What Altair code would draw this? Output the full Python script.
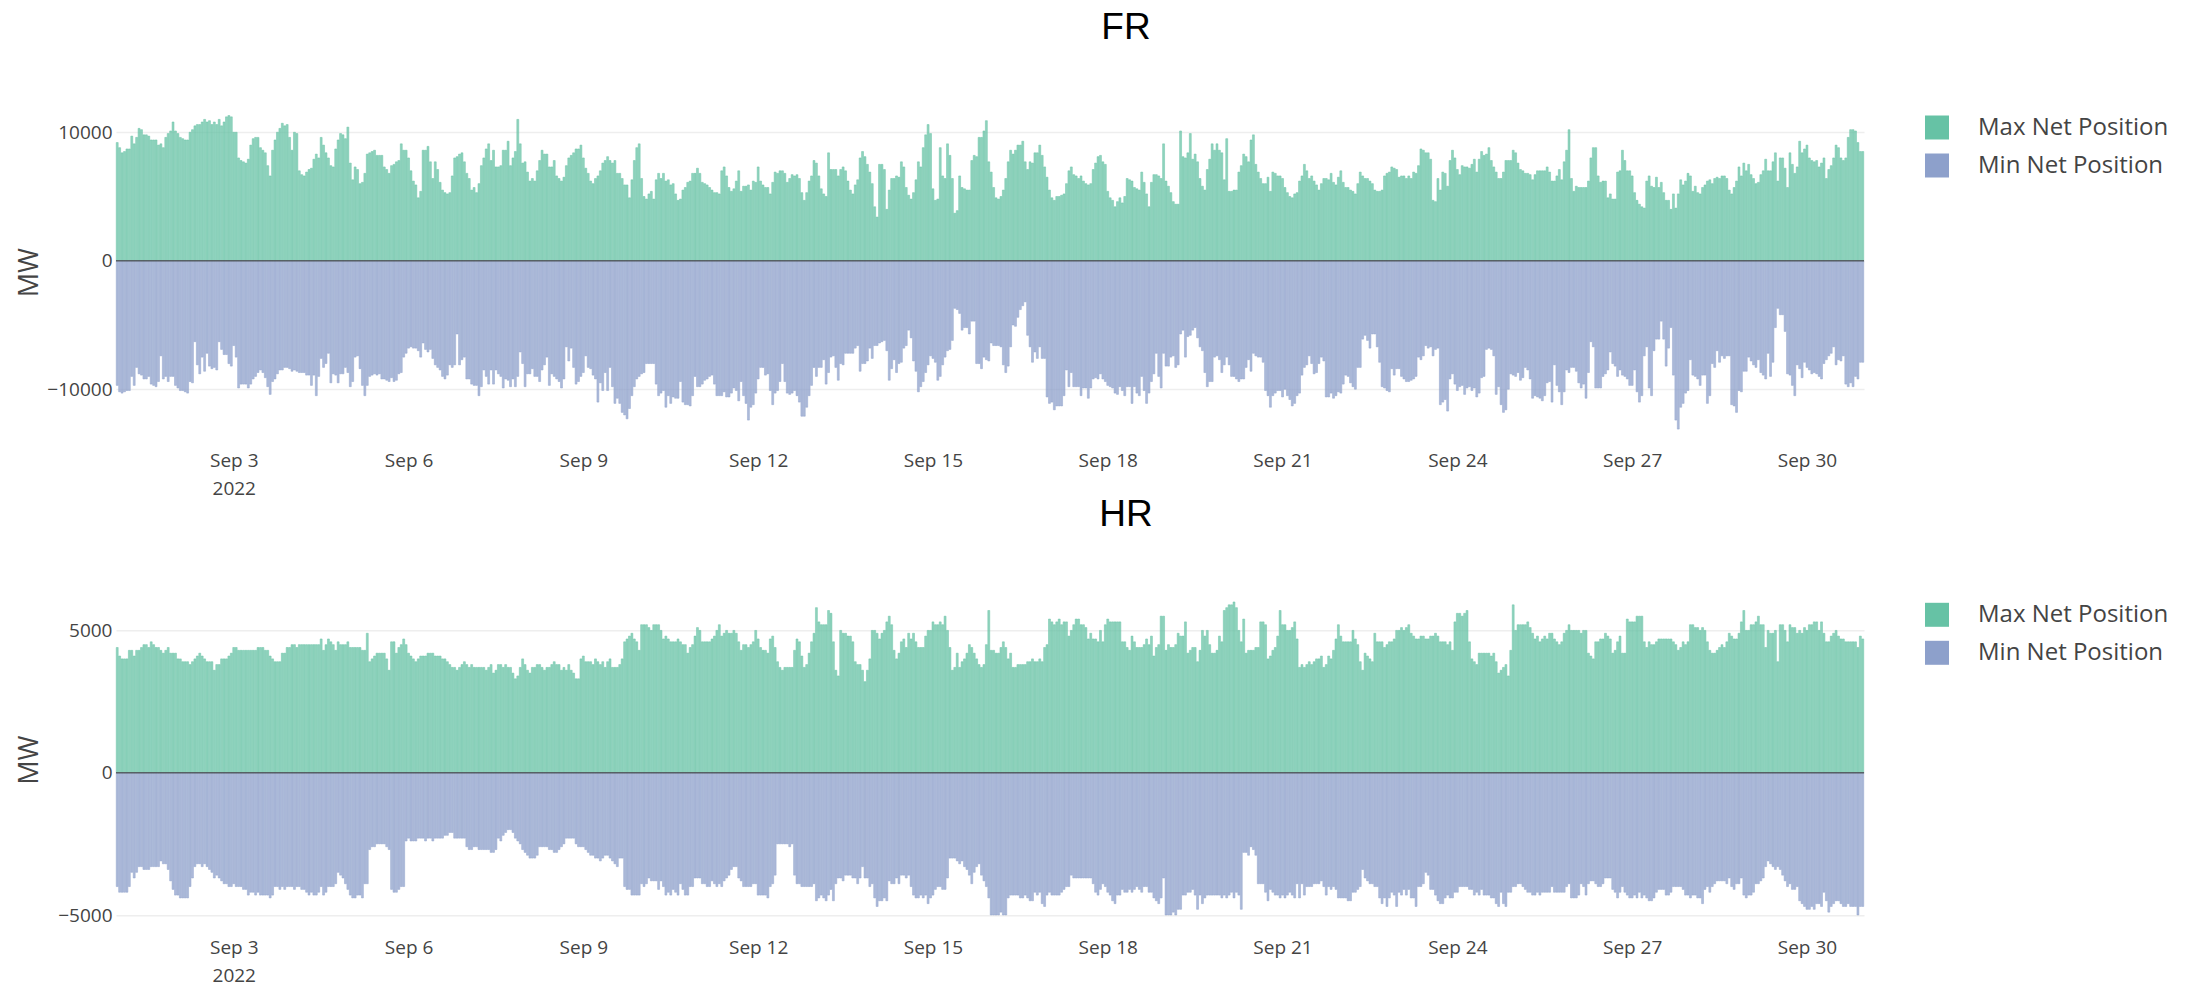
import altair as alt
import pandas as pd

# Hourly values for September 2022, in units of 100 MW (one line per day)
FR_MAX_100MW = [
    92,88,84,85,87,87,97,91,96,103,102,98,98,97,94,94,94,90,91,88,96,99,101,108,
    101,99,96,95,94,94,100,102,105,106,106,108,110,108,109,106,108,106,110,105,108,112,113,112,
    100,100,80,78,77,76,79,90,95,96,96,88,86,84,74,66,86,94,100,103,107,105,106,96,
    86,100,99,70,67,66,69,71,72,79,83,80,96,90,84,80,74,73,87,94,99,98,95,104,
    76,63,73,71,60,61,68,83,84,85,86,82,82,82,73,71,68,74,75,77,78,91,86,86,
    80,70,62,59,49,54,86,86,89,77,64,77,71,61,55,53,52,53,66,80,81,83,84,77,
    68,64,55,57,53,60,74,80,87,91,78,86,73,73,74,86,86,93,74,80,85,110,91,76,
    77,69,62,64,62,70,78,86,83,83,73,73,78,66,64,62,65,74,80,82,84,87,87,90,
    80,72,68,62,60,64,66,70,76,78,81,78,76,78,68,68,64,59,59,49,63,78,88,91,
    64,50,48,52,54,48,63,68,64,68,62,63,59,60,52,47,48,55,57,61,62,68,68,72,
    68,61,60,59,57,55,53,53,52,70,73,66,57,54,56,62,70,54,58,58,59,55,62,61,
    73,62,59,57,57,52,61,69,68,70,70,68,61,64,67,66,67,64,53,47,53,62,66,78,
    76,66,56,52,50,84,71,71,71,66,71,73,70,62,55,52,59,63,80,85,81,75,69,60,
    42,34,75,75,71,40,55,64,64,66,65,77,73,57,51,48,53,63,77,73,88,98,106,99,
    56,47,48,88,66,64,91,82,64,37,39,66,57,56,55,55,78,82,81,96,96,101,109,77,
    69,57,49,48,50,55,64,77,86,83,86,90,90,93,77,71,77,76,84,84,90,82,73,65,
    55,49,47,50,50,51,52,60,70,73,67,66,64,66,62,60,59,60,71,76,81,82,77,75,
    54,49,47,42,46,49,45,50,64,63,62,57,56,55,69,61,52,42,61,67,67,66,64,91,
    62,58,53,46,44,44,101,81,80,84,99,79,83,77,64,58,55,71,79,91,86,91,86,84,
    63,95,54,54,55,55,69,74,83,81,77,94,98,75,69,64,60,60,65,54,69,68,66,66,
    64,57,53,50,49,52,53,62,66,75,70,64,66,62,59,55,60,64,64,63,68,61,59,65,
    70,61,57,57,55,54,52,60,69,66,64,64,62,60,55,54,54,55,66,68,69,73,72,71,
    65,66,66,64,66,64,69,68,74,87,86,84,84,79,47,46,64,55,69,68,58,78,86,80,
    71,67,74,73,73,72,75,79,69,79,85,82,83,88,78,73,69,64,64,69,78,78,78,86,
    84,76,71,70,68,68,67,63,67,70,70,70,70,73,69,62,62,66,71,63,77,86,102,64,
    54,58,57,57,57,57,62,80,88,88,66,61,62,62,49,52,48,48,69,70,86,78,70,70,
    66,53,47,44,42,41,62,66,58,57,65,57,61,53,47,47,40,52,41,52,63,59,62,68,
    66,54,58,53,52,57,59,62,63,60,64,65,64,66,66,64,55,52,57,62,73,66,76,70,
    75,67,64,60,61,67,70,79,70,70,77,84,62,80,80,72,57,84,75,68,73,93,84,87,
    90,80,78,77,78,73,76,80,64,71,74,80,90,88,80,78,80,96,102,102,101,92,85,85,
]
FR_MIN_100MW = [
    -97,-102,-103,-102,-101,-101,-90,-97,-83,-88,-89,-92,-92,-90,-96,-97,-98,-94,-74,-92,-90,-94,-90,-90,
    -97,-99,-101,-101,-102,-103,-94,-95,-63,-81,-88,-75,-86,-72,-82,-84,-83,-85,-63,-69,-73,-73,-80,-82,
    -66,-75,-99,-96,-96,-96,-99,-96,-92,-90,-87,-85,-87,-91,-98,-104,-94,-92,-88,-85,-85,-83,-83,-84,
    -86,-85,-86,-87,-87,-87,-89,-89,-97,-89,-105,-90,-76,-83,-80,-72,-95,-88,-89,-95,-88,-88,-83,-87,
    -98,-94,-75,-74,-84,-97,-105,-97,-90,-89,-88,-89,-88,-92,-92,-93,-94,-91,-94,-93,-88,-87,-75,-72,
    -68,-67,-68,-68,-70,-75,-64,-69,-71,-69,-76,-81,-83,-85,-90,-92,-89,-81,-83,-81,-57,-81,-77,-75,
    -92,-92,-96,-97,-97,-105,-98,-85,-90,-96,-85,-96,-85,-88,-90,-99,-92,-93,-98,-92,-98,-90,-71,-80,
    -98,-88,-88,-84,-90,-90,-94,-85,-81,-75,-97,-88,-90,-92,-94,-99,-92,-67,-78,-68,-83,-96,-94,-90,
    -87,-74,-83,-84,-89,-92,-110,-95,-101,-87,-101,-83,-98,-111,-107,-111,-118,-120,-123,-115,-105,-98,-92,-90,
    -88,-87,-80,-80,-80,-80,-96,-105,-103,-101,-114,-105,-111,-106,-107,-107,-94,-110,-112,-112,-113,-105,-90,-98,
    -98,-96,-93,-92,-90,-89,-96,-105,-105,-105,-102,-106,-106,-103,-99,-101,-109,-94,-105,-111,-124,-114,-112,-103,
    -92,-83,-83,-89,-88,-101,-112,-103,-101,-94,-80,-94,-103,-104,-103,-101,-105,-110,-121,-121,-114,-105,-97,-83,
    -90,-83,-83,-77,-96,-87,-75,-74,-83,-93,-80,-81,-72,-72,-72,-72,-68,-66,-86,-80,-80,-78,-68,-76,
    -66,-66,-64,-63,-62,-70,-93,-84,-77,-87,-80,-79,-68,-66,-54,-60,-78,-86,-102,-98,-94,-87,-81,-74,
    -76,-79,-93,-90,-81,-75,-70,-69,-62,-37,-38,-41,-54,-52,-52,-57,-47,-47,-80,-80,-84,-75,-77,-78,
    -64,-66,-66,-66,-67,-81,-87,-82,-67,-50,-51,-44,-38,-35,-32,-58,-67,-79,-71,-76,-67,-76,-76,-106,
    -111,-110,-116,-113,-113,-113,-105,-85,-98,-87,-98,-98,-98,-105,-99,-99,-107,-99,-92,-91,-92,-88,-92,-94,
    -97,-98,-99,-103,-104,-98,-101,-105,-98,-98,-111,-98,-103,-105,-90,-101,-111,-103,-94,-88,-72,-90,-99,-72,
    -82,-82,-75,-74,-83,-81,-57,-54,-75,-59,-58,-54,-52,-60,-67,-70,-87,-98,-94,-94,-75,-74,-77,-87,
    -81,-75,-81,-90,-90,-92,-94,-92,-92,-83,-77,-86,-72,-74,-75,-75,-79,-101,-105,-114,-105,-103,-101,-101,
    -106,-100,-105,-108,-113,-111,-105,-103,-89,-83,-81,-74,-80,-88,-87,-80,-75,-78,-106,-106,-103,-107,-105,-102,
    -103,-96,-89,-90,-95,-98,-100,-83,-83,-61,-58,-62,-68,-57,-57,-67,-79,-98,-99,-101,-102,-84,-89,-84,
    -84,-90,-92,-94,-94,-93,-92,-90,-75,-77,-74,-66,-68,-67,-74,-69,-68,-112,-110,-108,-117,-92,-88,-96,
    -101,-98,-97,-104,-99,-98,-101,-99,-106,-103,-91,-90,-69,-68,-69,-74,-104,-98,-112,-118,-116,-100,-88,-89,
    -90,-87,-93,-91,-83,-85,-92,-107,-105,-106,-107,-109,-105,-95,-94,-110,-81,-97,-102,-112,-102,-85,-87,-83,
    -83,-86,-95,-99,-96,-107,-87,-63,-67,-99,-99,-99,-90,-88,-85,-71,-80,-82,-90,-85,-89,-90,-92,-97,
    -97,-85,-102,-110,-105,-74,-67,-99,-105,-70,-61,-61,-47,-61,-82,-68,-52,-89,-124,-131,-114,-111,-103,-101,
    -77,-89,-90,-92,-97,-89,-89,-111,-105,-80,-83,-70,-79,-74,-76,-74,-74,-112,-113,-118,-101,-102,-86,-86,
    -75,-78,-81,-83,-77,-87,-89,-92,-72,-90,-79,-52,-37,-42,-42,-55,-88,-89,-97,-105,-81,-84,-91,-79,
    -83,-85,-88,-87,-88,-90,-92,-80,-77,-74,-72,-67,-81,-77,-78,-74,-96,-98,-95,-98,-90,-92,-79,-79,
]
HR_MAX_100MW = [
    44,41,40,40,40,43,43,41,43,43,44,45,45,44,46,45,44,44,43,42,43,44,42,42,
    42,40,40,39,39,39,38,39,40,41,42,41,40,39,39,39,36,38,38,40,40,40,41,42,
    44,44,43,43,43,43,43,43,43,43,44,44,44,43,43,41,40,39,39,39,42,42,44,44,
    45,45,44,45,45,45,45,45,45,45,45,45,47,43,45,47,46,45,43,46,45,45,45,46,
    44,44,44,44,44,43,43,49,39,40,41,42,42,42,42,40,36,46,46,42,44,45,47,45,
    42,41,40,39,40,41,41,41,42,42,42,41,41,41,40,40,39,38,37,37,36,37,38,39,
    38,37,38,37,37,37,37,37,36,37,38,35,36,38,38,37,38,37,37,35,33,34,37,40,
    38,36,35,37,37,38,38,37,36,37,37,38,39,38,38,36,37,36,38,36,35,33,33,40,
    41,39,39,39,38,40,39,38,39,37,39,40,37,37,37,38,40,46,47,48,49,47,46,43,
    52,52,52,51,50,52,52,52,50,47,48,47,46,46,46,47,46,45,45,42,44,45,48,51,
    50,46,46,46,46,47,48,50,52,48,49,50,49,49,50,49,46,43,45,45,44,45,46,50,
    47,44,43,43,42,47,48,44,39,37,36,37,37,37,37,43,47,46,41,37,38,42,46,49,
    58,53,52,52,52,57,56,46,36,34,50,49,49,48,48,46,39,38,38,36,32,36,40,50,
    50,49,47,49,50,53,55,52,43,40,42,46,47,44,49,47,49,46,44,44,44,48,50,50,
    53,52,52,53,52,55,50,44,36,37,42,37,39,40,42,45,44,42,40,38,37,38,45,57,
    43,43,42,42,44,46,44,40,42,37,37,38,38,38,38,39,39,40,39,39,40,39,44,45,
    54,53,52,53,54,52,53,53,48,50,52,54,54,52,52,51,47,49,47,47,46,50,46,52,
    54,53,53,53,53,53,46,46,44,43,48,46,44,44,44,45,47,45,48,41,44,45,55,55,
    43,45,44,44,45,49,48,48,53,42,43,44,44,39,43,50,48,50,45,42,42,43,48,46,
    57,58,59,59,60,58,50,46,54,42,43,43,43,44,44,53,53,52,40,41,43,44,48,57,
    52,52,50,50,51,53,47,37,38,37,38,39,38,39,40,40,41,37,38,41,40,43,47,52,
    48,46,46,46,46,50,47,45,39,36,42,41,40,39,49,46,46,46,44,45,46,46,47,50,
    50,51,50,51,52,49,48,47,47,48,48,47,47,48,48,49,48,46,46,46,45,46,43,53,
    56,56,55,56,57,46,40,39,38,42,42,42,42,42,41,42,39,35,36,37,38,34,43,59,
    50,52,52,52,52,53,51,49,47,48,46,47,48,47,49,49,47,46,45,46,49,50,52,50,
    50,50,50,49,50,50,42,41,40,46,46,47,47,49,48,47,42,43,46,48,42,42,54,53,
    53,53,55,55,55,46,44,46,45,45,46,47,47,47,47,47,47,46,45,43,44,46,45,46,
    52,52,51,51,50,51,50,46,43,42,42,43,44,45,44,46,49,48,47,47,49,53,57,50,
    50,52,52,53,55,52,52,44,50,49,49,50,39,52,52,50,46,52,51,51,49,50,49,51,
    50,52,52,53,53,50,53,49,46,46,48,49,50,48,47,47,46,46,46,46,46,44,48,47,
]
HR_MIN_100MW = [
    -40,-42,-42,-42,-42,-40,-35,-37,-35,-33,-33,-34,-34,-34,-33,-33,-33,-33,-31,-32,-32,-34,-38,-41,
    -43,-43,-44,-44,-44,-44,-40,-37,-33,-32,-32,-33,-32,-33,-34,-35,-37,-36,-37,-38,-39,-39,-40,-40,
    -39,-40,-40,-40,-41,-41,-43,-42,-42,-43,-42,-43,-43,-43,-43,-44,-43,-40,-40,-41,-40,-41,-40,-40,
    -40,-41,-40,-40,-41,-41,-42,-43,-42,-43,-43,-42,-40,-43,-42,-40,-40,-40,-39,-35,-36,-37,-39,-41,
    -43,-44,-44,-43,-43,-44,-39,-39,-27,-26,-26,-25,-25,-25,-25,-26,-27,-41,-42,-42,-41,-40,-40,-24,
    -23,-24,-24,-24,-23,-23,-23,-24,-23,-23,-24,-23,-23,-23,-23,-22,-22,-21,-21,-23,-23,-23,-23,-23,
    -26,-27,-27,-26,-26,-27,-27,-27,-27,-27,-28,-28,-27,-23,-24,-22,-21,-20,-20,-21,-23,-24,-25,-27,
    -28,-29,-30,-30,-30,-29,-26,-26,-26,-26,-27,-27,-28,-28,-27,-26,-25,-23,-23,-23,-23,-25,-26,-26,
    -26,-27,-28,-29,-29,-30,-30,-31,-30,-29,-29,-30,-31,-32,-33,-30,-30,-40,-41,-41,-43,-43,-43,-43,
    -39,-40,-39,-37,-38,-38,-38,-41,-38,-40,-43,-42,-43,-41,-42,-43,-39,-41,-43,-43,-40,-40,-37,-37,
    -37,-39,-39,-40,-40,-38,-39,-40,-39,-40,-38,-37,-36,-34,-33,-33,-37,-38,-40,-40,-40,-40,-39,-39,
    -43,-43,-43,-43,-44,-40,-39,-36,-25,-25,-25,-25,-25,-26,-25,-36,-39,-39,-40,-40,-40,-40,-40,-39,
    -45,-44,-43,-44,-45,-43,-41,-45,-39,-37,-37,-38,-36,-36,-36,-37,-37,-39,-37,-33,-37,-37,-40,-39,
    -44,-47,-45,-45,-44,-45,-38,-39,-39,-37,-39,-36,-36,-37,-36,-40,-43,-44,-44,-43,-44,-43,-46,-44,
    -43,-41,-40,-40,-41,-41,-37,-30,-30,-30,-31,-32,-31,-33,-34,-36,-39,-35,-33,-32,-36,-38,-40,-44,
    -50,-50,-50,-50,-49,-50,-50,-44,-43,-43,-43,-43,-44,-44,-43,-44,-45,-45,-42,-43,-42,-46,-47,-43,
    -42,-43,-43,-43,-43,-42,-41,-40,-40,-36,-37,-37,-37,-37,-37,-37,-37,-37,-39,-42,-43,-41,-39,-40,
    -42,-43,-45,-46,-43,-43,-41,-42,-42,-41,-42,-41,-40,-41,-42,-40,-40,-42,-42,-44,-45,-46,-44,-37,
    -50,-50,-50,-49,-50,-48,-48,-43,-43,-42,-42,-41,-43,-48,-43,-46,-44,-43,-43,-43,-43,-43,-43,-44,
    -43,-44,-43,-42,-44,-42,-43,-48,-28,-28,-29,-26,-27,-29,-39,-39,-39,-42,-45,-41,-42,-43,-43,-44,
    -43,-44,-43,-42,-43,-44,-39,-44,-39,-43,-40,-40,-40,-39,-39,-39,-38,-40,-43,-40,-41,-40,-41,-44,
    -44,-44,-44,-45,-45,-42,-42,-41,-40,-34,-37,-38,-39,-39,-40,-40,-44,-46,-44,-47,-44,-42,-43,-47,
    -42,-43,-41,-43,-41,-44,-44,-47,-40,-40,-39,-35,-36,-41,-41,-43,-45,-46,-46,-44,-43,-44,-44,-42,
    -42,-40,-40,-40,-40,-41,-41,-43,-42,-43,-41,-43,-43,-43,-44,-44,-46,-47,-42,-46,-47,-42,-42,-40,
    -40,-39,-39,-40,-41,-42,-42,-43,-43,-42,-43,-42,-42,-42,-42,-40,-42,-42,-42,-42,-42,-40,-39,-44,
    -44,-44,-43,-39,-40,-43,-39,-38,-38,-39,-40,-40,-39,-37,-37,-37,-41,-42,-44,-42,-40,-42,-43,-44,
    -44,-43,-44,-42,-44,-43,-44,-45,-45,-44,-42,-41,-41,-41,-43,-43,-42,-40,-40,-40,-40,-41,-43,-43,
    -44,-43,-43,-44,-44,-46,-41,-40,-42,-40,-39,-38,-38,-38,-38,-39,-37,-40,-41,-39,-39,-37,-43,-44,
    -43,-43,-42,-39,-39,-38,-37,-33,-31,-32,-33,-34,-33,-34,-36,-38,-40,-39,-41,-41,-40,-45,-46,-47,
    -48,-48,-47,-48,-46,-46,-47,-42,-45,-49,-47,-46,-45,-45,-46,-47,-47,-46,-47,-47,-47,-50,-47,-47,
]

SERIES = ["Max Net Position", "Min Net Position"]
COLORS = ["#66c2a5", "#8da0cb"]
TICK_DAYS = [3, 6, 9, 12, 15, 18, 21, 24, 27, 30]
FR_TICKS = [-10000, 0, 10000]
HR_TICKS = [-5000, 0, 5000]

for name, arr in [("FR_MAX", FR_MAX_100MW), ("FR_MIN", FR_MIN_100MW),
                  ("HR_MAX", HR_MAX_100MW), ("HR_MIN", HR_MIN_100MW)]:
    assert len(arr) == 720, (name, len(arr))

times = pd.date_range("2022-09-01", periods=720, freq="h", tz="UTC")
t_ms = times.asi8 // 10**6
HALF = 24 * 60 * 1000  # bar half-width (80% of an hour)


def make_df(max_vals, min_vals):
    frames = []
    for label, vals in zip(SERIES, [max_vals, min_vals]):
        frames.append(pd.DataFrame({
            "t0": t_ms - HALF,
            "t1": t_ms + HALF,
            "v": [v * 100 for v in vals],
            "s": label,
        }))
    return pd.concat(frames, ignore_index=True)


XDOM = [alt.DateTime(year=2022, month=8, date=31, hours=23, minutes=30, utc=True),
        alt.DateTime(year=2022, month=9, date=30, hours=23, minutes=30, utc=True)]
PLOT_W = 1748
PLOT_H = 344.5
FONT = "Open Sans"


def panel(df, title, ydom, yticks):
    yscale = alt.Scale(domain=ydom, nice=False, zero=False)
    xscale = alt.Scale(type="utc", domain=XDOM)
    xaxis = alt.Axis(
        values=[alt.DateTime(year=2022, month=9, date=d, utc=True) for d in TICK_DAYS],
        labelExpr="utcdate(datum.value) == 3 ? [utcFormat(datum.value, '%b %-d'), '2022'] : utcFormat(datum.value, '%b %-d')",
        labelFont=FONT, labelFontSize=19, labelColor="#444", labelPadding=7,
        labelLineHeight=28, labelFlush=False, labelOverlap=False,
        tickSize=0, domain=False, grid=False, title=None,
    )
    yaxis = alt.Axis(
        values=yticks, format="d",
        labelFont=FONT, labelFontSize=19, labelColor="#444", labelPadding=4,
        tickSize=0, domain=False, grid=True, gridColor="#eeeeee", gridWidth=1.5,
        title="MW", titleFont=FONT, titleFontSize=27, titleFontWeight="normal",
        titleColor="#444", titleX=-86.7, titleY=PLOT_H / 2, titleBaseline="middle",
    )
    bars = alt.Chart(df).mark_bar(
        fillOpacity=0.72, strokeWidth=0.5, strokeOpacity=0.95
    ).encode(
        x=alt.X("t0:T", scale=xscale, axis=xaxis),
        x2="t1:T",
        y=alt.Y("v:Q", scale=yscale, axis=yaxis),
        y2=alt.datum(0),
        color=alt.Color("s:N", scale=alt.Scale(domain=SERIES, range=COLORS),
                        legend=alt.Legend(
                            title=None, orient="none", legendX=1809, legendY=15.5,
                            direction="vertical", symbolType="square", symbolSize=576,
                            symbolStrokeWidth=0, symbolOpacity=1,
                            labelFont=FONT, labelFontSize=24, labelColor="#444",
                            labelOffset=29, labelLimit=400, rowPadding=14, padding=0,
                        )),
        stroke=alt.Stroke("s:N", scale=alt.Scale(domain=SERIES, range=COLORS), legend=None),
    )
    zero = alt.Chart(pd.DataFrame({"v": [0]})).mark_rule(
        color="#444", strokeWidth=1.5, opacity=0.75
    ).encode(y=alt.Y("v:Q", scale=yscale, axis=yaxis))
    return alt.layer(bars, zero, title=alt.TitleParams(
        text=title, font="Liberation Sans", fontSize=37, fontWeight="normal",
        color="#000", anchor="middle", frame="group", dx=136, offset=24,
        baseline="alphabetic",
    )).properties(width=PLOT_W, height=PLOT_H)


top = panel(make_df(FR_MAX_100MW, FR_MIN_100MW), "FR", [-14300, 12510], FR_TICKS)
bottom = panel(make_df(HR_MAX_100MW, HR_MIN_100MW), "HR", [-5590, 6515], HR_TICKS)

chart = alt.vconcat(
    top, bottom, spacing=142.3, bounds="flush",
    padding={"left": 6, "top": 0, "right": 5, "bottom": 0},
).resolve_scale(color="independent", stroke="independent").resolve_legend(
    color="independent"
).configure_view(stroke="transparent").properties(background="white")

chart.save("out.html", embed_options={"renderer": "svg", "actions": False})
